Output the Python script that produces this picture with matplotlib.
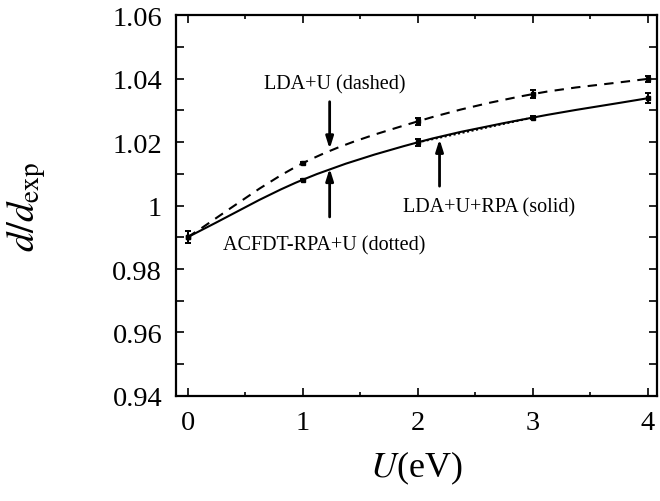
import numpy as np
import matplotlib
matplotlib.use("Agg")
from matplotlib import pyplot as plt
from matplotlib.path import Path
from matplotlib.patches import PathPatch
from matplotlib.ticker import MultipleLocator, FuncFormatter

plt.rcParams["font.family"] = ["Liberation Serif", "DejaVu Serif"]
plt.rcParams["mathtext.fontset"] = "stix"

# data
u = [0, 1, 2, 3, 4]
lda_u = [0.990, 1.0133, 1.0265, 1.0351, 1.0399]
lda_u_err = [0.0019, 0.0003, 0.0010, 0.0013, 0.0009]
lda_u_rpa = [0.990, 1.0081, 1.0199, 1.0277, 1.0338]
lda_u_rpa_err = [0.0019, 0.0002, 0.0012, 0.0006, 0.0015]
acfdt_u = [2, 3]
acfdt = [1.0199, 1.0277]


def smooth_path(xs, ys):
    # cubic Bezier segments through the points, tangents from neighbours
    xs = np.asarray(xs, float)
    ys = np.asarray(ys, float)
    n = len(xs)
    m = np.gradient(ys, xs)
    verts = [(xs[0], ys[0])]
    codes = [Path.MOVETO]
    for i in range(n - 1):
        h = xs[i + 1] - xs[i]
        verts += [(xs[i] + h / 3, ys[i] + m[i] * h / 3),
                  (xs[i + 1] - h / 3, ys[i + 1] - m[i + 1] * h / 3),
                  (xs[i + 1], ys[i + 1])]
        codes += [Path.CURVE4] * 3
    return Path(verts, codes)


fig = plt.figure(figsize=(6.6, 5.02), dpi=100)
ax = fig.add_axes([0.2667, 0.2092, 0.7288, 0.7588])

ax.add_patch(PathPatch(smooth_path(u, lda_u), fill=False, lw=1.5, color="black",
                       linestyle=(0, (4.5, 3.5))))
ax.add_patch(PathPatch(smooth_path(u, lda_u_rpa), fill=False, lw=1.5, color="black"))
ax.plot(acfdt_u, acfdt, color="black", lw=1.5, linestyle=(0, (1, 1.2)))

for y, e in ((lda_u, lda_u_err), (lda_u_rpa, lda_u_rpa_err)):
    ax.errorbar(u, y, yerr=e, fmt="s", ms=2.8, color="black", ecolor="black",
                elinewidth=1.4, capsize=2.5, capthick=1.4)

arrow = dict(arrowstyle="-|>,head_length=0.7,head_width=0.22", color="black", lw=2.0,
             shrinkA=0, shrinkB=0)
ax.annotate("", xy=(1.235, 1.0178), xytext=(1.235, 1.0327), arrowprops=arrow)
ax.annotate("", xy=(1.235, 1.0117), xytext=(1.235, 0.9964), arrowprops=arrow)
ax.annotate("", xy=(2.19, 1.0209), xytext=(2.19, 1.0061), arrowprops=arrow)

ax.text(1.28, 1.0383, "LDA+U (dashed)", ha="center", va="center", fontsize=14.5)
ax.text(1.19, 0.9876, "ACFDT-RPA+U (dotted)", ha="center", va="center", fontsize=14.5)
ax.text(2.62, 0.9995, "LDA+U+RPA (solid)", ha="center", va="center", fontsize=14.5)

ax.set_xlim(-0.1, 4.08)
ax.set_ylim(0.94, 1.06)
ax.xaxis.set_major_locator(MultipleLocator(1))
ax.xaxis.set_minor_locator(MultipleLocator(0.5))
ax.yaxis.set_major_locator(MultipleLocator(0.02))
ax.yaxis.set_minor_locator(MultipleLocator(0.01))
ax.yaxis.set_major_formatter(FuncFormatter(lambda v, p: f"{v:g}"))
ax.tick_params(which="both", direction="in", top=True, right=True, width=1.2)
ax.tick_params(which="major", length=6, labelsize=20.5, pad=10)
ax.tick_params(axis="y", which="minor", length=6)
ax.tick_params(axis="x", which="minor", length=3)
for s in ax.spines.values():
    s.set_linewidth(1.6)

ax.set_xlabel(r"$U$(eV)", fontsize=26, labelpad=10)
ax.set_ylabel(r"$d/d_{\rm exp}$", fontsize=28, labelpad=46)

fig.savefig("out.png", dpi=100)
